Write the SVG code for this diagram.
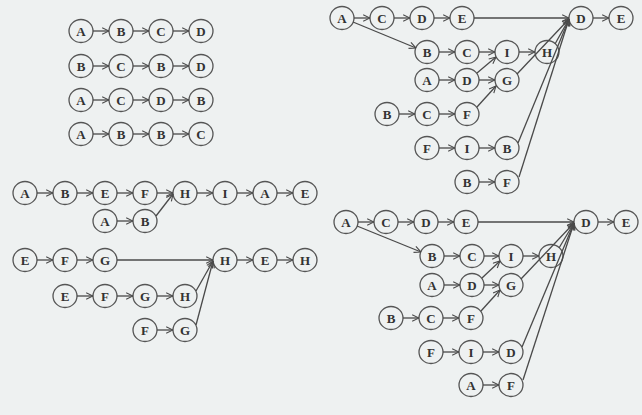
<svg xmlns="http://www.w3.org/2000/svg" width="642" height="415" viewBox="0 0 642 415">
<style>
.n ellipse{fill:none;stroke:#555;stroke-width:1.3}
.n text{font-family:"Liberation Serif",serif;font-weight:bold;font-size:13px;fill:#333;text-anchor:middle}
.e line{stroke:#4a4a4a;stroke-width:1.3;marker-end:url(#ah)}
</style>
<defs>
<marker id="ah" viewBox="0 0 10 10" refX="9.5" refY="5" markerWidth="8" markerHeight="8" markerUnits="userSpaceOnUse" orient="auto">
<path d="M1,1 L9.5,5 L1,9" fill="none" stroke="#4a4a4a" stroke-width="1.4"/>
</marker>
</defs>
<rect width="642" height="415" fill="#eef1f1"/>

<!-- top-left grid -->
<g id="g1r1a" class="n"><ellipse cx="81" cy="31" rx="12" ry="11.5"/><text x="81" y="35.5">A</text></g>
<g id="g1r1b" class="n"><ellipse cx="121" cy="31" rx="12" ry="11.5"/><text x="121" y="35.5">B</text></g>
<g id="g1r1c" class="n"><ellipse cx="161" cy="31" rx="12" ry="11.5"/><text x="161" y="35.5">C</text></g>
<g id="g1r1d" class="n"><ellipse cx="201" cy="31" rx="12" ry="11.5"/><text x="201" y="35.5">D</text></g>
<g id="g1r2a" class="n"><ellipse cx="81" cy="66" rx="12" ry="11.5"/><text x="81" y="70.5">B</text></g>
<g id="g1r2b" class="n"><ellipse cx="121" cy="66" rx="12" ry="11.5"/><text x="121" y="70.5">C</text></g>
<g id="g1r2c" class="n"><ellipse cx="161" cy="66" rx="12" ry="11.5"/><text x="161" y="70.5">B</text></g>
<g id="g1r2d" class="n"><ellipse cx="201" cy="66" rx="12" ry="11.5"/><text x="201" y="70.5">D</text></g>
<g id="g1r3a" class="n"><ellipse cx="81" cy="100" rx="12" ry="11.5"/><text x="81" y="104.5">A</text></g>
<g id="g1r3b" class="n"><ellipse cx="121" cy="100" rx="12" ry="11.5"/><text x="121" y="104.5">C</text></g>
<g id="g1r3c" class="n"><ellipse cx="161" cy="100" rx="12" ry="11.5"/><text x="161" y="104.5">D</text></g>
<g id="g1r3d" class="n"><ellipse cx="201" cy="100" rx="12" ry="11.5"/><text x="201" y="104.5">B</text></g>
<g id="g1r4a" class="n"><ellipse cx="81" cy="134" rx="12" ry="11.5"/><text x="81" y="138.5">A</text></g>
<g id="g1r4b" class="n"><ellipse cx="121" cy="134" rx="12" ry="11.5"/><text x="121" y="138.5">B</text></g>
<g id="g1r4c" class="n"><ellipse cx="161" cy="134" rx="12" ry="11.5"/><text x="161" y="138.5">B</text></g>
<g id="g1r4d" class="n"><ellipse cx="201" cy="134" rx="12" ry="11.5"/><text x="201" y="138.5">C</text></g>

<!-- middle-left group 1 -->
<g id="g2a1" class="n"><ellipse cx="25" cy="193" rx="12" ry="11.5"/><text x="25" y="197.5">A</text></g>
<g id="g2b1" class="n"><ellipse cx="65" cy="193" rx="12" ry="11.5"/><text x="65" y="197.5">B</text></g>
<g id="g2e1" class="n"><ellipse cx="105" cy="193" rx="12" ry="11.5"/><text x="105" y="197.5">E</text></g>
<g id="g2f1" class="n"><ellipse cx="145" cy="193" rx="12" ry="11.5"/><text x="145" y="197.5">F</text></g>
<g id="g2h1" class="n"><ellipse cx="185" cy="193" rx="12" ry="11.5"/><text x="185" y="197.5">H</text></g>
<g id="g2i1" class="n"><ellipse cx="225" cy="193" rx="12" ry="11.5"/><text x="225" y="197.5">I</text></g>
<g id="g2a2" class="n"><ellipse cx="265" cy="193" rx="12" ry="11.5"/><text x="265" y="197.5">A</text></g>
<g id="g2e2" class="n"><ellipse cx="305" cy="193" rx="12" ry="11.5"/><text x="305" y="197.5">E</text></g>
<g id="g2a3" class="n"><ellipse cx="105" cy="221" rx="12" ry="11.5"/><text x="105" y="225.5">A</text></g>
<g id="g2b3" class="n"><ellipse cx="145" cy="221" rx="12" ry="11.5"/><text x="145" y="225.5">B</text></g>

<!-- middle-left group 2 -->
<g id="g3e1" class="n"><ellipse cx="25" cy="260" rx="12" ry="11.5"/><text x="25" y="264.5">E</text></g>
<g id="g3f1" class="n"><ellipse cx="65" cy="260" rx="12" ry="11.5"/><text x="65" y="264.5">F</text></g>
<g id="g3g1" class="n"><ellipse cx="105" cy="260" rx="12" ry="11.5"/><text x="105" y="264.5">G</text></g>
<g id="g3h1" class="n"><ellipse cx="225" cy="260" rx="12" ry="11.5"/><text x="225" y="264.5">H</text></g>
<g id="g3e2" class="n"><ellipse cx="265" cy="260" rx="12" ry="11.5"/><text x="265" y="264.5">E</text></g>
<g id="g3h2" class="n"><ellipse cx="305" cy="260" rx="12" ry="11.5"/><text x="305" y="264.5">H</text></g>
<g id="g3e3" class="n"><ellipse cx="65" cy="296" rx="12" ry="11.5"/><text x="65" y="300.5">E</text></g>
<g id="g3f3" class="n"><ellipse cx="105" cy="296" rx="12" ry="11.5"/><text x="105" y="300.5">F</text></g>
<g id="g3g3" class="n"><ellipse cx="145" cy="296" rx="12" ry="11.5"/><text x="145" y="300.5">G</text></g>
<g id="g3h3" class="n"><ellipse cx="185" cy="296" rx="12" ry="11.5"/><text x="185" y="300.5">H</text></g>
<g id="g3f4" class="n"><ellipse cx="145" cy="330" rx="12" ry="11.5"/><text x="145" y="334.5">F</text></g>
<g id="g3g4" class="n"><ellipse cx="185" cy="330" rx="12" ry="11.5"/><text x="185" y="334.5">G</text></g>

<!-- top-right group -->
<g id="g4a1" class="n"><ellipse cx="342" cy="18" rx="12" ry="11.5"/><text x="342" y="22.5">A</text></g>
<g id="g4c1" class="n"><ellipse cx="382" cy="18" rx="12" ry="11.5"/><text x="382" y="22.5">C</text></g>
<g id="g4d1" class="n"><ellipse cx="422" cy="18" rx="12" ry="11.5"/><text x="422" y="22.5">D</text></g>
<g id="g4e1" class="n"><ellipse cx="462" cy="18" rx="12" ry="11.5"/><text x="462" y="22.5">E</text></g>
<g id="g4d2" class="n"><ellipse cx="581" cy="18" rx="12" ry="11.5"/><text x="581" y="22.5">D</text></g>
<g id="g4e2" class="n"><ellipse cx="621" cy="18" rx="12" ry="11.5"/><text x="621" y="22.5">E</text></g>
<g id="g4b2" class="n"><ellipse cx="427" cy="52" rx="12" ry="11.5"/><text x="427" y="56.5">B</text></g>
<g id="g4c2" class="n"><ellipse cx="467" cy="52" rx="12" ry="11.5"/><text x="467" y="56.5">C</text></g>
<g id="g4i2" class="n"><ellipse cx="507" cy="52" rx="12" ry="11.5"/><text x="507" y="56.5">I</text></g>
<g id="g4h2" class="n"><ellipse cx="547" cy="52" rx="12" ry="11.5"/><text x="547" y="56.5">H</text></g>
<g id="g4a3" class="n"><ellipse cx="427" cy="80" rx="12" ry="11.5"/><text x="427" y="84.5">A</text></g>
<g id="g4d3" class="n"><ellipse cx="467" cy="80" rx="12" ry="11.5"/><text x="467" y="84.5">D</text></g>
<g id="g4g3" class="n"><ellipse cx="507" cy="80" rx="12" ry="11.5"/><text x="507" y="84.5">G</text></g>
<g id="g4b4" class="n"><ellipse cx="387" cy="114" rx="12" ry="11.5"/><text x="387" y="118.5">B</text></g>
<g id="g4c4" class="n"><ellipse cx="427" cy="114" rx="12" ry="11.5"/><text x="427" y="118.5">C</text></g>
<g id="g4f4" class="n"><ellipse cx="467" cy="114" rx="12" ry="11.5"/><text x="467" y="118.5">F</text></g>
<g id="g4f5" class="n"><ellipse cx="427" cy="148" rx="12" ry="11.5"/><text x="427" y="152.5">F</text></g>
<g id="g4i5" class="n"><ellipse cx="467" cy="148" rx="12" ry="11.5"/><text x="467" y="152.5">I</text></g>
<g id="g4b5" class="n"><ellipse cx="507" cy="148" rx="12" ry="11.5"/><text x="507" y="152.5">B</text></g>
<g id="g4b6" class="n"><ellipse cx="467" cy="182" rx="12" ry="11.5"/><text x="467" y="186.5">B</text></g>
<g id="g4f6" class="n"><ellipse cx="507" cy="182" rx="12" ry="11.5"/><text x="507" y="186.5">F</text></g>

<!-- bottom-right group -->
<g id="g5a1" class="n"><ellipse cx="346" cy="222" rx="12" ry="11.5"/><text x="346" y="226.5">A</text></g>
<g id="g5c1" class="n"><ellipse cx="386" cy="222" rx="12" ry="11.5"/><text x="386" y="226.5">C</text></g>
<g id="g5d1" class="n"><ellipse cx="426" cy="222" rx="12" ry="11.5"/><text x="426" y="226.5">D</text></g>
<g id="g5e1" class="n"><ellipse cx="466" cy="222" rx="12" ry="11.5"/><text x="466" y="226.5">E</text></g>
<g id="g5d2" class="n"><ellipse cx="586" cy="222" rx="12" ry="11.5"/><text x="586" y="226.5">D</text></g>
<g id="g5e2" class="n"><ellipse cx="626" cy="222" rx="12" ry="11.5"/><text x="626" y="226.5">E</text></g>
<g id="g5b2" class="n"><ellipse cx="432" cy="256" rx="12" ry="11.5"/><text x="432" y="260.5">B</text></g>
<g id="g5c2" class="n"><ellipse cx="472" cy="256" rx="12" ry="11.5"/><text x="472" y="260.5">C</text></g>
<g id="g5i2" class="n"><ellipse cx="511" cy="256" rx="12" ry="11.5"/><text x="511" y="260.5">I</text></g>
<g id="g5h2" class="n"><ellipse cx="551" cy="256" rx="12" ry="11.5"/><text x="551" y="260.5">H</text></g>
<g id="g5a3" class="n"><ellipse cx="432" cy="285" rx="12" ry="11.5"/><text x="432" y="289.5">A</text></g>
<g id="g5d3" class="n"><ellipse cx="472" cy="285" rx="12" ry="11.5"/><text x="472" y="289.5">D</text></g>
<g id="g5g3" class="n"><ellipse cx="511" cy="285" rx="12" ry="11.5"/><text x="511" y="289.5">G</text></g>
<g id="g5b4" class="n"><ellipse cx="391" cy="318" rx="12" ry="11.5"/><text x="391" y="322.5">B</text></g>
<g id="g5c4" class="n"><ellipse cx="431" cy="318" rx="12" ry="11.5"/><text x="431" y="322.5">C</text></g>
<g id="g5f4" class="n"><ellipse cx="471" cy="318" rx="12" ry="11.5"/><text x="471" y="322.5">F</text></g>
<g id="g5f5" class="n"><ellipse cx="431" cy="352" rx="12" ry="11.5"/><text x="431" y="356.5">F</text></g>
<g id="g5i5" class="n"><ellipse cx="471" cy="352" rx="12" ry="11.5"/><text x="471" y="356.5">I</text></g>
<g id="g5d5" class="n"><ellipse cx="511" cy="352" rx="12" ry="11.5"/><text x="511" y="356.5">D</text></g>
<g id="g5a6" class="n"><ellipse cx="471" cy="385" rx="12" ry="11.5"/><text x="471" y="389.5">A</text></g>
<g id="g5f6" class="n"><ellipse cx="511" cy="385" rx="12" ry="11.5"/><text x="511" y="389.5">F</text></g>

<g id="connectors" class="e">
<!-- grid -->
<line x1="93" y1="31" x2="109" y2="31"/><line x1="133" y1="31" x2="149" y2="31"/><line x1="173" y1="31" x2="189" y2="31"/>
<line x1="93" y1="66" x2="109" y2="66"/><line x1="133" y1="66" x2="149" y2="66"/><line x1="173" y1="66" x2="189" y2="66"/>
<line x1="93" y1="100" x2="109" y2="100"/><line x1="133" y1="100" x2="149" y2="100"/><line x1="173" y1="100" x2="189" y2="100"/>
<line x1="93" y1="134" x2="109" y2="134"/><line x1="133" y1="134" x2="149" y2="134"/><line x1="173" y1="134" x2="189" y2="134"/>
<!-- group 2 -->
<line x1="37" y1="193" x2="53" y2="193"/><line x1="77" y1="193" x2="93" y2="193"/><line x1="117" y1="193" x2="133" y2="193"/>
<line x1="157" y1="193" x2="173" y2="193"/><line x1="197" y1="193" x2="213" y2="193"/><line x1="237" y1="193" x2="253" y2="193"/><line x1="277" y1="193" x2="293" y2="193"/>
<line x1="117" y1="221" x2="133" y2="221"/>
<line x1="156" y1="216" x2="173" y2="194"/>
<!-- group 3 -->
<line x1="37" y1="260" x2="53" y2="260"/><line x1="77" y1="260" x2="93" y2="260"/><line x1="117" y1="260" x2="213" y2="260"/>
<line x1="237" y1="260" x2="253" y2="260"/><line x1="277" y1="260" x2="293" y2="260"/>
<line x1="77" y1="296" x2="93" y2="296"/><line x1="117" y1="296" x2="133" y2="296"/><line x1="157" y1="296" x2="173" y2="296"/>
<line x1="196" y1="291" x2="213" y2="261"/>
<line x1="157" y1="330" x2="173" y2="330"/>
<line x1="196" y1="325" x2="213" y2="261"/>
<!-- group 4 -->
<line x1="354" y1="18" x2="370" y2="18"/><line x1="394" y1="18" x2="410" y2="18"/><line x1="434" y1="18" x2="450" y2="18"/>
<line x1="474" y1="18" x2="569" y2="18"/><line x1="593" y1="18" x2="609" y2="18"/>
<line x1="353" y1="22" x2="416" y2="48"/>
<line x1="439" y1="52" x2="455" y2="52"/><line x1="479" y1="52" x2="495" y2="52"/><line x1="519" y1="52" x2="535" y2="52"/>
<line x1="439" y1="80" x2="455" y2="80"/><line x1="479" y1="80" x2="495" y2="80"/>
<line x1="477" y1="73" x2="496" y2="57"/>
<line x1="399" y1="114" x2="415" y2="114"/><line x1="439" y1="114" x2="455" y2="114"/>
<line x1="477" y1="107" x2="496" y2="86"/>
<line x1="439" y1="148" x2="455" y2="148"/><line x1="479" y1="148" x2="495" y2="148"/>
<line x1="479" y1="182" x2="495" y2="182"/>
<line x1="555" y1="44" x2="569" y2="19"/>
<line x1="517" y1="74" x2="569" y2="19"/>
<line x1="518" y1="143" x2="569" y2="19"/>
<line x1="519" y1="177" x2="569" y2="19"/>
<!-- group 5 -->
<line x1="358" y1="222" x2="374" y2="222"/><line x1="398" y1="222" x2="414" y2="222"/><line x1="438" y1="222" x2="454" y2="222"/>
<line x1="478" y1="222" x2="574" y2="222"/><line x1="598" y1="222" x2="614" y2="222"/>
<line x1="357" y1="226" x2="421" y2="252"/>
<line x1="444" y1="256" x2="460" y2="256"/><line x1="484" y1="256" x2="499" y2="256"/><line x1="523" y1="256" x2="539" y2="256"/>
<line x1="444" y1="285" x2="460" y2="285"/><line x1="484" y1="285" x2="499" y2="285"/>
<line x1="482" y1="278" x2="500" y2="261"/>
<line x1="403" y1="318" x2="419" y2="318"/><line x1="443" y1="318" x2="459" y2="318"/>
<line x1="481" y1="311" x2="500" y2="290"/>
<line x1="443" y1="352" x2="459" y2="352"/><line x1="483" y1="352" x2="499" y2="352"/>
<line x1="483" y1="385" x2="499" y2="385"/>
<line x1="559" y1="248" x2="574" y2="223"/>
<line x1="521" y1="279" x2="574" y2="223"/>
<line x1="522" y1="347" x2="574" y2="223"/>
<line x1="523" y1="380" x2="574" y2="223"/>
</g>
</svg>
